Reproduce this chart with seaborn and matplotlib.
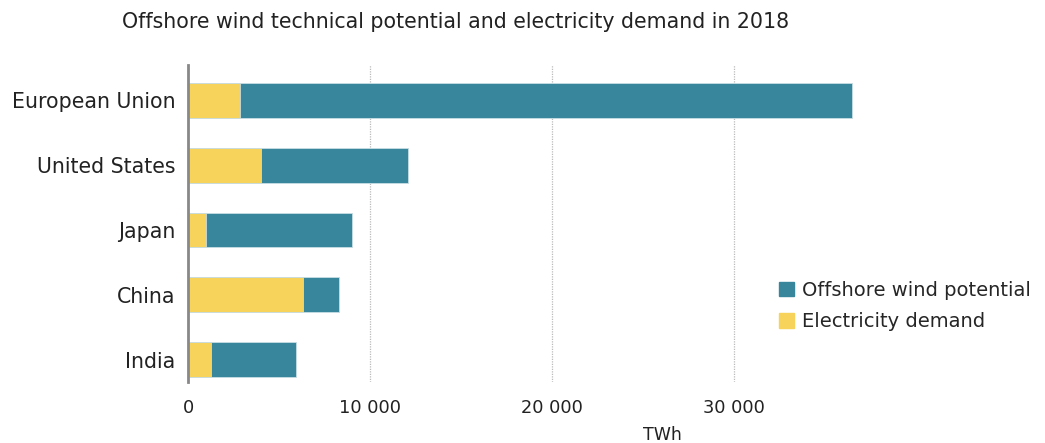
import matplotlib
matplotlib.use("Agg")
import matplotlib.pyplot as plt
import seaborn as sns
import pandas as pd
from matplotlib.ticker import FuncFormatter
from matplotlib.patches import Patch

countries = ["European Union", "United States", "Japan", "China", "India"]
wind_potential = [36500, 12100, 9000, 8300, 5950]
electricity_demand = [2850, 4000, 1000, 6300, 1250]
ticks = [0, 10000, 20000, 30000]

TEAL = "#37869b"
YELLOW = "#f7d35c"

df = pd.DataFrame({"country": countries, "wind": wind_potential, "demand": electricity_demand})

sns.set_theme(style="white")
plt.rcParams["font.family"] = ["DejaVu Sans"]

W, H = 1045, 443
fig = plt.figure(figsize=(W / 100, H / 100), dpi=100)
left, right, top, bottom = 188, 870, 65, 382
ax = fig.add_axes([left / W, 1 - bottom / H, (right - left) / W, (bottom - top) / H])

sns.barplot(data=df, y="country", x="wind", color=TEAL, width=0.54, ax=ax, saturation=1, orient="h",
            edgecolor="#c8dde3", linewidth=0.6)
sns.barplot(data=df, y="country", x="demand", color=YELLOW, width=0.54, ax=ax, saturation=1, orient="h",
            edgecolor="#c8dde3", linewidth=0.6)

ax.set_xlim(0, 37500)
ax.set_ylim(4.347, -0.548)
ax.set_xticks(ticks)
ax.xaxis.set_major_formatter(FuncFormatter(lambda v, p: f"{int(v):,}".replace(",", " ")))
ax.grid(axis="x", color="#bbbbbb", linestyle=(0, (1, 1)), linewidth=0.9)
ax.set_axisbelow(True)
for s in ["top", "right", "bottom"]:
    ax.spines[s].set_visible(False)
ax.spines["left"].set_color("#888888")
ax.spines["left"].set_linewidth(2)
ax.tick_params(axis="x", length=0, labelsize=12.8, colors="#222222", pad=12)
ax.tick_params(axis="y", length=0, labelsize=14.8, colors="#222222", pad=9)
ax.set_ylabel("")
ax.set_xlabel("TWh", fontsize=12.5, color="#222222")
ax.xaxis.set_label_coords((662 - left) / (right - left), -0.14)

fig.text(122 / W, 1 - 22 / H, "Offshore wind technical potential and electricity demand in 2018",
         fontsize=14.8, color="#222222", ha="left", va="center")

handles = [Patch(color=TEAL, label="Offshore wind potential"), Patch(color=YELLOW, label="Electricity demand")]
fig.legend(handles=handles, loc="center left", bbox_to_anchor=(779 / W, 1 - 306 / H), frameon=False,
           borderpad=0, borderaxespad=0,
           fontsize=14.0, handlelength=0.75, handleheight=0.75, handletextpad=0.45, labelspacing=0.65)

fig.savefig("out.png", dpi=100)
